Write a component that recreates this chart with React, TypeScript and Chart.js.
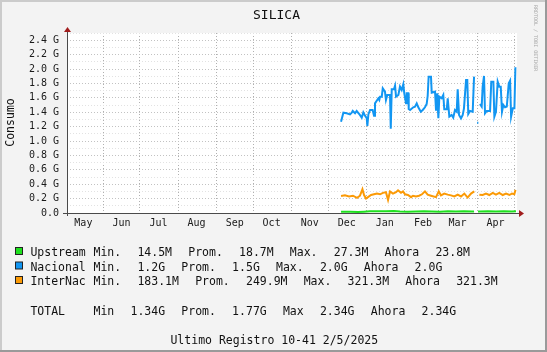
import React, { useEffect, useRef } from "react";
import { Chart, registerables } from "chart.js";

Chart.register(...registerables);

// ---- data ----
// x values: days since 1 May 2024
const chartTitle = "SILICA";
const yAxisTitle = "Consumo";
const footerText = "Ultimo Registro 10-41 2/5/2025";
const watermark = "RRDTOOL / TOBI OETIKER";

const monthLabels = ["May", "Jun", "Jul", "Aug", "Sep", "Oct", "Nov", "Dec", "Jan", "Feb", "Mar", "Apr"];
const monthStartDays = [0, 31, 61, 92, 123, 153, 184, 214, 245, 276, 304, 335, 365];
const xMinDay = 1.7;
const xMaxDay = 367.4;
const yMax = 2.5;
const yStep = 0.1;

const seriesNames = ["Upstream", "Nacional", "InterNac"];
const seriesColors = ["#1ee01e", "#1296f2", "#fb9a06"];

const upstreamSeries: [number, number | null][] = [
  [224.4, 0.016], [231.7, 0.017], [238.2, 0.015], [243.1, 0.019], [247.9, 0.024],
  [254.4, 0.026], [260.9, 0.025], [267.4, 0.027], [272.3, 0.022], [278.8, 0.018],
  [285.3, 0.02], [291.8, 0.024], [298.3, 0.022], [304.8, 0.019], [311.3, 0.023],
  [317.8, 0.021], [324.3, 0.024], [330.8, 0.02], [332.5, 0.021], [334.2, null],
  [335.7, 0.022], [337.3, 0.022], [343.8, 0.025], [350.3, 0.02], [356.8, 0.023],
  [363.3, 0.022], [366.6, 0.0238],
];

const nacionalSeries: [number, number | null][] = [
  [224.4, 1.268], [226.3, 1.393], [229.0, 1.385], [231.7, 1.37], [233.1, 1.393],
  [233.9, 1.417], [235.8, 1.385], [237.1, 1.417], [239.2, 1.375], [241.2, 1.324],
  [242.5, 1.398], [243.9, 1.352], [245.3, 1.315], [245.8, 1.208], [246.6, 1.37],
  [248.0, 1.431], [250.1, 1.431], [251.2, 1.352], [252.0, 1.523], [253.4, 1.56],
  [254.7, 1.593], [255.5, 1.569], [256.1, 1.616], [257.5, 1.616], [258.3, 1.731],
  [260.1, 1.685], [260.9, 1.569], [262.0, 1.639], [264.2, 1.639], [264.8, 1.17],
  [265.6, 1.718], [267.4, 1.718], [268.3, 1.769], [269.1, 1.616], [271.0, 1.639],
  [272.3, 1.755], [273.7, 1.708], [275.0, 1.787], [275.8, 1.662], [277.2, 1.523],
  [277.8, 1.662], [279.1, 1.662], [279.4, 1.444], [280.5, 1.431], [283.1, 1.468],
  [284.5, 1.477], [285.9, 1.523], [287.2, 1.468], [289.2, 1.407], [290.8, 1.431],
  [292.6, 1.468], [294.0, 1.514], [294.8, 1.625], [295.6, 1.894], [297.5, 1.894],
  [298.1, 1.671], [300.8, 1.685], [301.6, 1.421], [302.6, 1.662], [303.5, 1.315],
  [304.3, 1.616], [306.2, 1.593], [307.5, 1.639], [308.3, 1.44], [310.3, 1.44],
  [311.1, 1.593], [312.4, 1.338], [314.3, 1.361], [315.6, 1.324], [317.0, 1.431],
  [318.4, 1.407], [319.2, 1.718], [320.3, 1.361], [321.9, 1.315], [323.3, 1.361],
  [324.3, 1.454], [326.0, 1.847], [327.0, 1.847], [327.8, 1.375], [329.2, 1.417],
  [331.4, 1.407], [332.5, 1.894], [333.0, 1.894], [334.2, null], [335.0, 1.255],
  [336.0, 1.255], [336.5, null], [337.3, 1.514], [338.7, 1.477], [339.5, 1.755],
  [340.6, 1.903], [341.4, 1.385], [342.8, 1.417], [345.5, 1.417], [346.5, 1.824],
  [348.2, 1.824], [349.0, 1.338], [350.3, 1.407], [351.7, 1.824], [353.0, 1.755],
  [354.2, 1.755], [355.2, 1.407], [356.3, 1.5], [357.7, 1.468], [359.1, 1.477],
  [360.7, 1.801], [361.8, 1.838], [362.6, 1.338], [364.0, 1.454], [365.3, 1.454],
  [366.1, 2.023],
];

const interNacSeries: [number, number | null][] = [
  [224.4, 0.235], [227.6, 0.245], [230.9, 0.23], [234.1, 0.24], [237.4, 0.21],
  [239.8, 0.24], [241.8, 0.33], [243.1, 0.25], [244.7, 0.2], [246.3, 0.22],
  [248.8, 0.25], [251.2, 0.26], [253.6, 0.27], [256.1, 0.26], [258.5, 0.28],
  [260.9, 0.29], [262.6, 0.183], [264.2, 0.3], [266.6, 0.27], [269.1, 0.29],
  [270.7, 0.315], [273.1, 0.28], [274.8, 0.3], [276.4, 0.26], [278.8, 0.25],
  [281.3, 0.22], [282.9, 0.24], [285.3, 0.23], [287.8, 0.24], [290.2, 0.26],
  [292.6, 0.3], [294.8, 0.254], [297.5, 0.24], [301.6, 0.22], [303.8, 0.3],
  [305.6, 0.245], [308.3, 0.27], [311.1, 0.255], [313.8, 0.245], [316.5, 0.23],
  [319.2, 0.255], [321.9, 0.23], [324.6, 0.27], [327.3, 0.215], [330.0, 0.27],
  [332.7, 0.3], [334.5, null], [336.8, 0.255], [339.5, 0.25], [342.2, 0.27],
  [344.9, 0.25], [347.7, 0.28], [350.3, 0.255], [353.0, 0.28], [355.8, 0.25],
  [358.5, 0.27], [361.2, 0.25], [363.3, 0.27], [365.2, 0.26], [366.2, 0.321],
];

const statLabels = ["Min.", "Prom.", "Max.", "Ahora"];
const upstreamStats = ["14.5M", "18.7M", "27.3M", "23.8M"];
const nacionalStats = ["1.2G", "1.5G", "2.0G", "2.0G"];
const interNacStats = ["183.1M", "249.9M", "321.3M", "321.3M"];
const totalName = "TOTAL";
const totalLabels = ["Min", "Prom.", "Max", "Ahora"];
const totalStats = ["1.34G", "1.77G", "2.34G", "2.34G"];

// ---- layout / style ----
const W = 547;
const H = 352;
const MONO = "'DejaVu Sans Mono', monospace";
const monthMids = monthStartDays.slice(0, 12).map((d) => d + 15);

const decorPlugin = {
  id: "rrdDecor",
  beforeDraw(chart: any) {
    const { ctx, chartArea: a } = chart;
    ctx.save();
    ctx.fillStyle = "#f3f3f3";
    ctx.fillRect(0, 0, W, H);
    // frame
    ctx.fillStyle = "#cbcbcb";
    ctx.fillRect(0, 0, W, 2);
    ctx.fillRect(0, 0, 2, H);
    ctx.fillStyle = "#9a9a9a";
    ctx.fillRect(0, H - 2, W, 2);
    ctx.fillRect(W - 2, 0, 2, H);
    // plot area
    ctx.fillStyle = "#ffffff";
    ctx.fillRect(a.left, a.top, a.right - a.left, a.bottom - a.top);
    ctx.restore();
  },
  afterDatasetsDraw(chart: any) {
    const { ctx, chartArea: a } = chart;
    ctx.save();
    ctx.strokeStyle = "#4a4a4a";
    ctx.lineWidth = 1;
    ctx.beginPath();
    const yb = Math.round(a.bottom) + 0.5;
    const xl = Math.round(a.left) + 0.5;
    ctx.moveTo(a.left - 4, yb);
    ctx.lineTo(a.right + 3, yb);
    ctx.moveTo(xl, a.bottom + 3);
    ctx.lineTo(xl, a.top - 3);
    ctx.stroke();
    ctx.fillStyle = "#a11d1d";
    ctx.beginPath();
    ctx.moveTo(a.right + 2, yb - 3.5);
    ctx.lineTo(a.right + 7, yb);
    ctx.lineTo(a.right + 2, yb + 3.5);
    ctx.closePath();
    ctx.fill();
    ctx.beginPath();
    ctx.moveTo(xl - 3.5, a.top - 1);
    ctx.lineTo(xl, a.top - 6);
    ctx.lineTo(xl + 3.5, a.top - 1);
    ctx.closePath();
    ctx.fill();
    ctx.restore();
  },
  afterDraw(chart: any) {
    const { ctx } = chart;
    ctx.save();
    ctx.fillStyle = "#111";
    ctx.textBaseline = "alphabetic";
    // title
    ctx.font = `13px ${MONO}`;
    ctx.textAlign = "center";
    ctx.fillText(chartTitle, 276.5, 19);
    // y title
    ctx.save();
    ctx.font = `11.5px ${MONO}`;
    ctx.translate(14, 122.5);
    ctx.rotate(-Math.PI / 2);
    ctx.textAlign = "center";
    ctx.fillText(yAxisTitle, 0, 0);
    ctx.restore();
    // watermark
    ctx.save();
    ctx.font = `5px ${MONO}`;
    ctx.fillStyle = "#a8a8a8";
    ctx.translate(533.5, 5);
    ctx.rotate(Math.PI / 2);
    ctx.textAlign = "left";
    ctx.fillText(watermark, 0, 0);
    ctx.restore();
    // legend
    ctx.font = `11.5px ${MONO}`;
    ctx.textAlign = "left";
    const gap = 16.2;
    const rows = [
      { name: seriesNames[0], color: seriesColors[0], labels: statLabels, stats: upstreamStats, y: 256 },
      { name: seriesNames[1], color: seriesColors[1], labels: statLabels, stats: nacionalStats, y: 270.5 },
      { name: seriesNames[2], color: seriesColors[2], labels: statLabels, stats: interNacStats, y: 285 },
      { name: totalName, color: null, labels: totalLabels, stats: totalStats, y: 314.5 },
    ];
    rows.forEach((r) => {
      if (r.color) {
        ctx.fillStyle = r.color;
        ctx.fillRect(15.5, r.y - 8.5, 7, 7);
        ctx.strokeStyle = "#222";
        ctx.lineWidth = 1;
        ctx.strokeRect(15.5, r.y - 8.5, 7, 7);
      }
      ctx.fillStyle = "#111";
      ctx.fillText(r.name, 30.4, r.y);
      let x = 93.5;
      for (let i = 0; i < 4; i++) {
        ctx.fillText(r.labels[i], x, r.y);
        x += ctx.measureText(r.labels[i]).width + gap;
        ctx.fillText(r.stats[i], x, r.y);
        x += ctx.measureText(r.stats[i]).width + gap;
      }
    });
    ctx.textAlign = "center";
    ctx.fillText(footerText, 274.3, 343.5);
    ctx.restore();
  },
};

function toPoints(s: [number, number | null][]) {
  return s.map(([x, y]) => ({ x, y }));
}

export default function App() {
  const ref = useRef<HTMLCanvasElement | null>(null);
  useEffect(() => {
    document.body.style.margin = "0";
    const canvas = ref.current!;
    const allTicks = [...monthStartDays, ...monthMids]
      .filter((v) => v >= xMinDay && v <= xMaxDay)
      .sort((a, b) => a - b);
    const chart = new Chart(canvas, {
      type: "line",
      data: {
        datasets: [
          { label: seriesNames[1], data: toPoints(nacionalSeries), borderColor: seriesColors[1] },
          { label: seriesNames[2], data: toPoints(interNacSeries), borderColor: seriesColors[2] },
          { label: seriesNames[0], data: toPoints(upstreamSeries), borderColor: seriesColors[0] },
        ].map((d) => ({ ...d, borderWidth: 2, pointRadius: 0, tension: 0, fill: false, spanGaps: false })),
      },
      options: {
        responsive: false,
        maintainAspectRatio: false,
        devicePixelRatio: 1,
        animation: false,
        events: [],
        layout: { padding: { top: 33, right: 30, left: 0, bottom: 0 } },
        plugins: { legend: { display: false }, tooltip: { enabled: false }, title: { display: false } },
        scales: {
          x: {
            type: "linear",
            min: xMinDay,
            max: xMaxDay,
            afterBuildTicks: (scale: any) => {
              scale.ticks = allTicks.map((v) => ({ value: v }));
            },
            afterFit: (scale: any) => {
              scale.height = H - 213;
            },
            grid: {
              drawTicks: false,
              lineWidth: 1,
              color: (c: any) => (c.tick && monthMids.includes(c.tick.value) ? "rgba(0,0,0,0)" : "#b0b0b0"),
            },
            border: { display: false, dash: [1, 2] },
            ticks: {
              autoSkip: false,
              maxRotation: 0,
              minRotation: 0,
              padding: 4,
              color: "#1a1a1a",
              font: { family: MONO, size: 10 },
              callback: (v: any) => {
                const i = monthMids.indexOf(Number(v));
                return i >= 0 ? monthLabels[i] : "";
              },
            },
          },
          y: {
            min: 0,
            max: yMax,
            afterFit: (scale: any) => {
              scale.width = 67;
            },
            grid: {
              drawTicks: false,
              lineWidth: 1,
              color: (c: any) => {
                const n = Math.round((c.tick?.value ?? 0) * 10);
                return n % 2 === 0 ? "#c2c2c2" : "#e2e2e2";
              },
            },
            border: { display: false, dash: [1, 2] },
            ticks: {
              stepSize: yStep,
              autoSkip: false,
              padding: 8,
              color: "#1a1a1a",
              font: { family: MONO, size: 10 },
              callback: (v: any) => {
                const n = Math.round(Number(v) * 10);
                if (n % 2 !== 0) return "";
                if (n === 0) return "0.0";
                return (n / 10).toFixed(1) + " G";
              },
            },
          },
        },
      },
      plugins: [decorPlugin],
    } as any);
    return () => chart.destroy();
  }, []);
  return <canvas ref={ref} width={W} height={H} style={{ display: "block", width: W, height: H }} />;
}
